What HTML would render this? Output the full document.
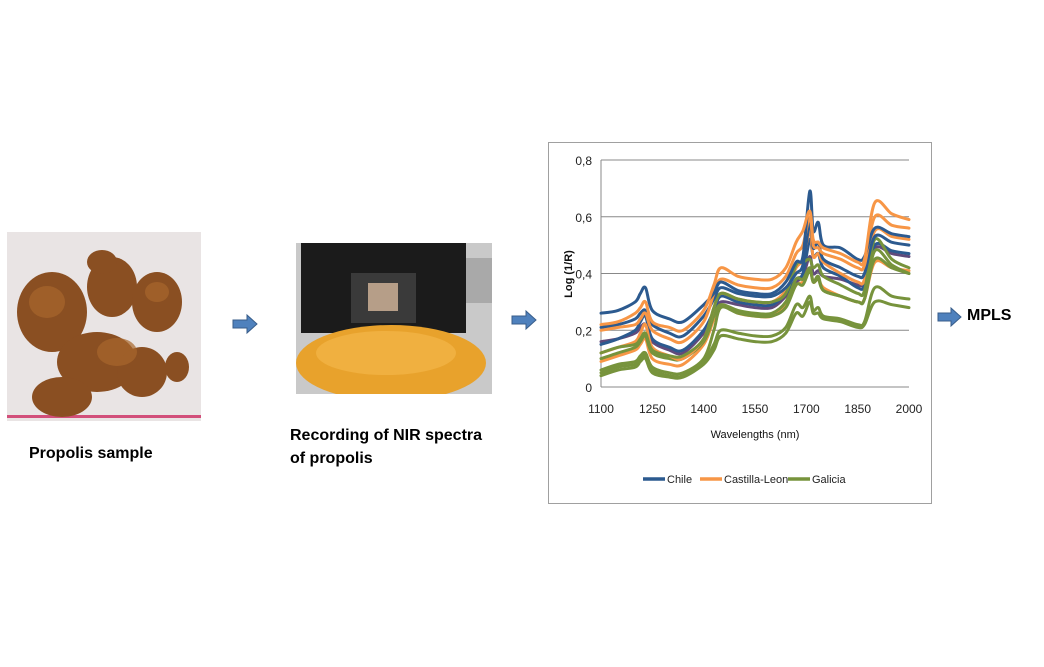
<!DOCTYPE html>
<html><head><meta charset="utf-8"><style>
body{margin:0;width:1044px;height:667px;background:#fff;position:relative;overflow:hidden;font-family:"Liberation Sans",sans-serif}
.abs{position:absolute}
.lbl{font-weight:bold;font-size:16px;color:#000}
</style></head><body>
<svg class="abs" style="left:7px;top:232px" width="194" height="189">
<rect width="194" height="189" fill="#e9e4e4"/>
<rect y="183" width="194" height="3" fill="#d24f7a"/>
<g fill="#8a4f22">
<ellipse cx="45" cy="80" rx="35" ry="40"/><ellipse cx="105" cy="55" rx="25" ry="30"/><ellipse cx="150" cy="70" rx="25" ry="30"/>
<ellipse cx="90" cy="130" rx="40" ry="30"/><ellipse cx="135" cy="140" rx="25" ry="25"/><ellipse cx="55" cy="165" rx="30" ry="20"/>
<ellipse cx="95" cy="30" rx="15" ry="12"/><ellipse cx="170" cy="135" rx="12" ry="15"/></g>
<g fill="#a8672c" opacity=".7"><ellipse cx="40" cy="70" rx="18" ry="16"/><ellipse cx="110" cy="120" rx="20" ry="14"/><ellipse cx="150" cy="60" rx="12" ry="10"/></g>
</svg>
<svg class="abs" style="left:296px;top:243px" width="196" height="151">
<rect width="196" height="151" fill="#c9c9c9"/>
<rect x="5" y="0" width="165" height="90" fill="#1b1b1b"/>
<rect x="55" y="30" width="65" height="50" fill="#3a3a3a"/>
<rect x="72" y="40" width="30" height="28" fill="#b69e88"/>
<rect x="170" y="15" width="26" height="45" fill="#a9a9a9"/>
<ellipse cx="95" cy="120" rx="95" ry="38" fill="#e8a22c"/>
<ellipse cx="90" cy="110" rx="70" ry="22" fill="#f0b040"/>
</svg>
<div class="abs lbl" style="left:29px;top:445px">Propolis sample</div>
<div class="abs lbl" style="left:290px;top:424px;line-height:23px">Recording of NIR spectra<br>of propolis</div>
<div class="abs lbl" style="left:967px;top:307px">MPLS</div>
<svg class="abs" style="left:0;top:0" width="1044" height="667">
<g fill="#4f81bd" stroke="#385d8a" stroke-width="1">
<path d="M233,320h14v-5l10,9-10,9v-5h-14z"/>
<path d="M512,316h14v-5l10,9-10,9v-5h-14z"/>
<path d="M938,313h13v-5l10,9-10,9v-5h-13z"/>
</g></svg>
<svg class="abs" id="chart" style="left:548px;top:142px" width="384" height="362"></svg>
<script>
const W=[1100,1150,1200,1215,1230,1250,1300,1340,1400,1430,1450,1500,1550,1600,1640,1670,1690,1710,1720,1735,1750,1800,1850,1870,1900,1950,2000];
const chileA=[.26,.27,.30,.33,.35,.27,.24,.23,.29,.33,.37,.34,.33,.33,.37,.44,.46,.69,.55,.58,.50,.49,.45,.46,.56,.54,.53];
const chileB=[.21,.22,.24,.26,.27,.22,.19,.18,.25,.31,.35,.33,.32,.32,.35,.40,.43,.58,.49,.51,.45,.42,.39,.40,.53,.51,.50];
const chileC=[.15,.17,.20,.23,.25,.17,.14,.13,.20,.27,.32,.30,.29,.29,.33,.38,.40,.52,.46,.47,.42,.39,.35,.36,.50,.48,.47];
const purpleA=[.16,.17,.19,.21,.22,.16,.13,.12,.19,.26,.30,.29,.28,.28,.32,.37,.39,.46,.40,.41,.39,.38,.36,.37,.49,.47,.46];
const orangeA=[.22,.23,.26,.28,.30,.23,.21,.20,.27,.36,.42,.39,.38,.38,.42,.51,.55,.62,.52,.51,.49,.47,.44,.45,.65,.61,.59];
const orangeB=[.20,.21,.22,.24,.26,.20,.17,.16,.23,.33,.38,.36,.35,.35,.39,.47,.50,.60,.50,.49,.47,.45,.42,.43,.60,.57,.56];
const orangeC=[.12,.14,.16,.19,.22,.14,.11,.10,.17,.28,.33,.31,.30,.30,.34,.42,.45,.55,.46,.47,.44,.40,.37,.38,.55,.53,.52];
const orangeD=[.09,.11,.13,.15,.17,.10,.08,.08,.15,.24,.29,.26,.25,.25,.29,.36,.37,.42,.37,.38,.35,.32,.30,.31,.44,.42,.41];
const greenA=[.12,.14,.15,.17,.19,.13,.11,.11,.17,.28,.33,.31,.30,.30,.33,.43,.44,.45,.42,.43,.39,.36,.33,.34,.52,.45,.42];
const greenB=[.10,.12,.14,.16,.18,.12,.10,.10,.16,.25,.29,.27,.26,.26,.30,.38,.38,.42,.37,.38,.34,.32,.30,.31,.48,.43,.40];
const greenC=[.06,.08,.09,.11,.12,.07,.05,.05,.10,.20,.28,.26,.25,.25,.28,.36,.36,.41,.37,.39,.34,.32,.30,.31,.45,.42,.40];
const greenD=[.05,.07,.08,.10,.11,.06,.04,.04,.09,.15,.20,.19,.18,.18,.21,.29,.28,.32,.27,.28,.25,.24,.22,.23,.35,.32,.31];
const greenE=[.04,.06,.07,.09,.10,.05,.035,.035,.08,.13,.18,.17,.16,.16,.19,.26,.25,.30,.26,.26,.24,.23,.21,.22,.30,.29,.28];
const yTicks=[0,0.2,0.4,0.6,0.8];
const yTickLabels=["0","0,2","0,4","0,6","0,8"];
const xTicks=[1100,1250,1400,1550,1700,1850,2000];
const NS="http://www.w3.org/2000/svg";
const svg=document.getElementById('chart');
const L=53,R=361,T=18,B=245;
const x=v=>L+(v-1100)/900*(R-L);
const y=v=>B-v/0.8*(B-T);
function mk(t,a,p){const e=document.createElementNS(NS,t);for(const k in a)e.setAttribute(k,a[k]);(p||svg).appendChild(e);return e;}
const frame=mk('rect',{x:0.5,y:0.5,width:383,height:361,fill:'#fff',stroke:'#a0a0a0'});


yTicks.forEach((t,i)=>{
 if(t>0){const g=mk('line',{x1:L,x2:R,y1:y(t),y2:y(t),stroke:'#888','stroke-width':1});
 
 }
 const tx=mk('text',{x:L-9,y:y(t)+5,'text-anchor':'end','font-size':12,fill:'#222'});tx.textContent=yTickLabels[i];
 
 
});
const ax=mk('line',{x1:L,x2:L,y1:T,y2:B,stroke:'#888'});


const bx=mk('line',{x1:L,x2:R,y1:B,y2:B,stroke:'#888'});


xTicks.forEach(t=>{const tx=mk('text',{x:x(t),y:B+26,'text-anchor':'middle','font-size':12,fill:'#222'});tx.textContent=t;
 
 });
const xt=mk('text',{x:207,y:296,'text-anchor':'middle','font-size':11,fill:'#111'});xt.textContent='Wavelengths (nm)';


const yt=mk('text',{x:0,y:0,'text-anchor':'middle','font-size':11,'font-weight':'bold',fill:'#111',transform:'translate(24,132) rotate(-90)'});yt.textContent='Log (1/R)';


function smooth(P){let d='M'+P[0][0].toFixed(1)+','+P[0][1].toFixed(1);
 for(let i=0;i<P.length-1;i++){const p0=P[i-1]||P[i],p1=P[i],p2=P[i+1],p3=P[i+2]||p2;
  const c1=[p1[0]+(p2[0]-p0[0])/6,p1[1]+(p2[1]-p0[1])/6],c2=[p2[0]-(p3[0]-p1[0])/6,p2[1]-(p3[1]-p1[1])/6];
  d+=' C'+c1.map(v=>v.toFixed(1))+' '+c2.map(v=>v.toFixed(1))+' '+p2.map(v=>v.toFixed(1));}
 return d;}
const series=[[greenE,'#77933c'],[greenD,'#77933c'],[orangeD,'#f79646'],[purpleA,'#604a7b'],[greenC,'#77933c'],[chileC,'#2c5a8f'],[greenB,'#77933c'],[orangeC,'#f79646'],[greenA,'#77933c'],[chileB,'#2c5a8f'],[orangeB,'#f79646'],[chileA,'#2c5a8f'],[orangeA,'#f79646']];
series.forEach(([d,c])=>{
 const P=d.map((v,i)=>[x(W[i]),y(v)]);
 const p=mk('path',{d:smooth(P),fill:'none',stroke:c,'stroke-width':3,'stroke-linejoin':'round','stroke-linecap':'round'});
 
 
});
const leg=[['Chile','#2c5a8f',95],['Castilla-Leon','#f79646',152],['Galicia','#77933c',240]];
leg.forEach(([n,c,lx])=>{
 const g=mk('g',{});
 
 
 mk('line',{x1:lx,x2:lx+22,y1:337,y2:337,stroke:c,'stroke-width':3.5},g);
 const t=mk('text',{x:lx+24,y:341,'font-size':11,fill:'#222'},g);t.textContent=n;
});
</script>
</body></html>
